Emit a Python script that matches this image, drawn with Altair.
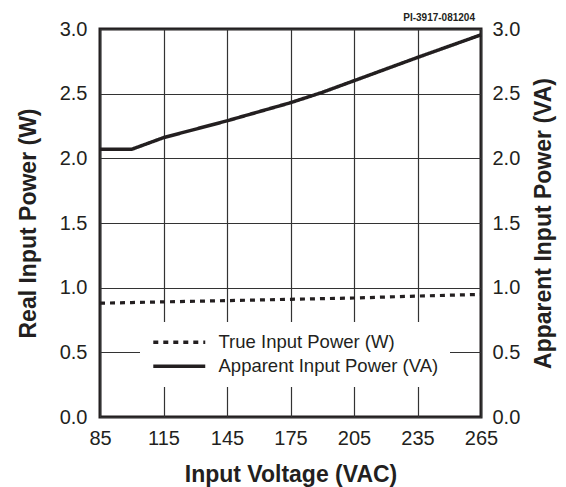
import altair as alt
import pandas as pd

volts = [85, 100, 115, 145, 175, 190, 205, 235, 265]
apparent_va = [2.07, 2.07, 2.16, 2.29, 2.43, 2.51, 2.60, 2.78, 2.955]
true_w = [0.88, 0.885, 0.89, 0.90, 0.91, 0.915, 0.92, 0.935, 0.948]
series_names = ["True Input Power (W)", "Apparent Input Power (VA)"]
x_ticks = [85, 115, 145, 175, 205, 235, 265]
y_ticks = [0.0, 0.5, 1.0, 1.5, 2.0, 2.5, 3.0]

df_true = pd.DataFrame({"v": volts, "p": true_w, "s": series_names[0]})
df_app = pd.DataFrame({"v": volts, "p": apparent_va, "s": series_names[1]})

FONT = "Liberation Sans"
INK = "#231f20"

x_enc = alt.X("v:Q", scale=alt.Scale(domain=[85, 265], nice=False),
              axis=alt.Axis(values=x_ticks, title="Input Voltage (VAC)", titlePadding=15,
                            labelFlush=False, labelPadding=11))
dash = alt.StrokeDash("s:N", scale=alt.Scale(domain=series_names, range=[[5, 5], [1, 0]]),
                      legend=alt.Legend(title=None, orient="none", legendX=40, legendY=293,
                                        fillColor="white", padding=11,
                                        symbolType="M-1.34,0H8.66",
                                        symbolSize=108, symbolStrokeWidth=3.5,
                                        symbolStrokeColor=INK,
                                        labelFontSize=18.5, labelFont=FONT, labelColor=INK,
                                        labelOffset=49, labelLimit=400, rowPadding=5))

left = alt.Chart(df_true).mark_line(color=INK, strokeWidth=3.2).encode(
    x=x_enc,
    y=alt.Y("p:Q", scale=alt.Scale(domain=[0, 3], nice=False),
            axis=alt.Axis(values=y_ticks, format=".1f", title="Real Input Power (W)", orient="left",
                          titlePadding=19, labelPadding=13)),
    strokeDash=dash,
)
right = alt.Chart(df_app).mark_line(color=INK, strokeWidth=3.5).encode(
    x=x_enc,
    y=alt.Y("p:Q", scale=alt.Scale(domain=[0, 3], nice=False),
            axis=alt.Axis(values=y_ticks, format=".1f", title="Apparent Input Power (VA)", orient="right",
                          titlePadding=13, labelPadding=11, grid=False, titleAngle=270,
                          titleBaseline="top")),
    strokeDash=dash,
)

chart = alt.layer(left, right).resolve_scale(y="independent").properties(
    width=381, height=388,
    background="white",
    autosize=alt.AutoSizeParams(type="none"),
    padding={"left": 92, "top": 21, "right": 77, "bottom": 70},
    title=alt.TitleParams("PI-3917-081204", anchor="end", frame="group", fontSize=10, font=FONT,
                          fontWeight="bold", color=INK, offset=-4, dx=-6),
).configure_view(stroke=INK, strokeWidth=3).configure_axis(
    labelFont=FONT, labelFontSize=20, labelColor=INK,
    titleFont=FONT, titleFontSize=23, titleFontWeight="bold", titleColor=INK,
    ticks=False, domain=False, gridColor="#333333", gridWidth=1.2, gridOpacity=1,
)

chart.save("out.html", embed_options={"renderer": "svg", "actions": False})
